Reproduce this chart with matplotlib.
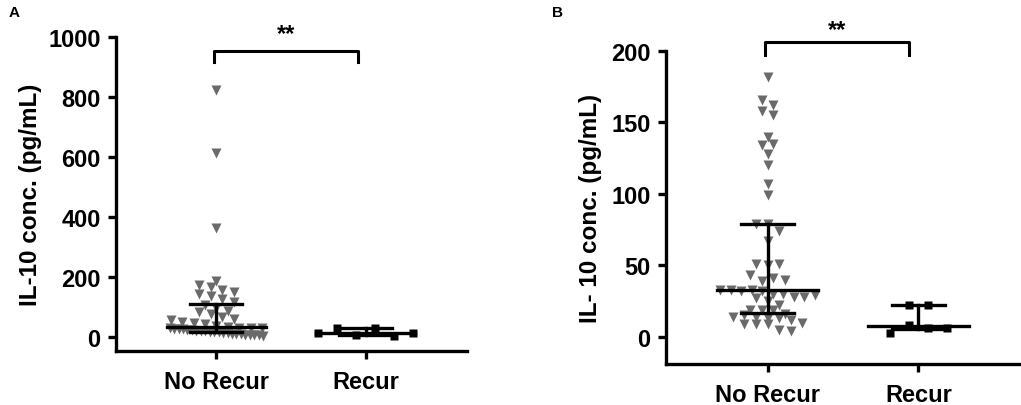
import matplotlib
matplotlib.use("Agg")
import matplotlib.pyplot as plt
import numpy as np

plt.rcParams["font.family"] = ["Liberation Sans", "DejaVu Sans"]
plt.rcParams["font.weight"] = "bold"

# data
groups = ["No Recur", "Recur"]

a_no_recur = [823, 614, 362, 188, 172, 166, 156, 150, 142, 135, 127, 116, 106,
              96, 88, 83, 76, 68, 61, 55, 49, 45, 42,
              36, 33, 31, 31, 30, 29, 28, 27, 26, 24, 23, 21, 20, 19, 18, 17,
              16, 14, 12, 11, 10, 9, 8, 7, 6, 5, 3]
a_recur = [13, 30, 7, 30, 2, 13]

b_no_recur = [182, 166, 162, 158, 155, 140, 134, 135, 128, 120, 107, 99,
              79, 79, 74, 67, 51, 50, 51, 43, 39, 41, 40,
              33, 33, 32, 33, 32, 30, 30, 28, 28, 29, 27, 25, 22,
              19, 19, 19, 14, 15, 16, 14, 13, 13, 12, 10, 9, 9, 9, 5, 4]
b_recur = [2.6, 22, 8, 22, 6.5, 6.5]

a_ticks = [0, 200, 400, 600, 800, 1000]
b_ticks = [0, 50, 100, 150, 200]

TRI_COLOR = "#6a6a6a"
PX_PER_CAT = 150.0


def swarm_offsets(values, px_per_unit, row_h, step_px, max_half_px):
    values = np.asarray(values, dtype=float)
    order = np.argsort(values, kind="stable")
    rows, current = [], [order[0]]
    for idx in order[1:]:
        if (values[idx] - values[current[0]]) * px_per_unit < row_h:
            current.append(idx)
        else:
            rows.append(current)
            current = [idx]
    rows.append(current)
    offsets = np.zeros(len(values))
    for row in rows:
        row = sorted(row)
        n = len(row)
        step = step_px if n == 1 else min(step_px, 2 * max_half_px / (n - 1))
        for i, idx in enumerate(row):
            offsets[idx] = (i - (n - 1) / 2) * step
    return offsets / PX_PER_CAT


def median_iqr(ax, x, values, lw=2.4):
    q1, med, q3 = np.percentile(values, [25, 50, 75], method="weibull")
    ax.plot([x - 0.333, x + 0.333], [med, med], color="black", lw=lw, zorder=4)
    for q in (q1, q3):
        ax.plot([x - 0.175, x + 0.175], [q, q], color="black", lw=lw, zorder=4)
    ax.plot([x, x], [q1, q3], color="black", lw=lw, zorder=4)


def panel(ax, no_recur, recur, ylim, ticks, px_per_unit, ylabel, label_x,
          bracket, star_y):
    x0 = 0 + swarm_offsets(no_recur, px_per_unit, 8, 11.5, 47)
    x1 = 1 + swarm_offsets(recur, px_per_unit, 10, 19, 48)
    ax.plot(x0, no_recur, "v", color=TRI_COLOR, ms=6.5, mec="none", zorder=3,
            clip_on=False)
    ax.plot(x1, recur, "s", color="black", ms=6, mec="none", zorder=3,
            clip_on=False)
    median_iqr(ax, 0, no_recur)
    median_iqr(ax, 1, recur)

    ax.set_xlim(-0.673, 1.68)
    ax.set_ylim(*ylim)
    ax.set_xticks([0, 1])
    ax.set_xticklabels(groups)
    ax.set_yticks(ticks)
    for s in ("top", "right"):
        ax.spines[s].set_visible(False)
    for s in ("left", "bottom"):
        ax.spines[s].set_linewidth(2.4)
    ax.tick_params(axis="both", width=2.4, length=6, labelsize=17)
    ax.tick_params(axis="y", pad=5)
    ax.tick_params(axis="x", pad=8)
    ax.set_ylabel(ylabel, fontsize=17.5, fontweight="bold")
    ax.yaxis.set_label_coords(label_x, 0.5)

    # significance bracket
    bx0, bx1, btop, bleg = bracket
    ax.plot([bx0, bx0, bx1, bx1], [bleg, btop, btop, bleg], color="black",
            lw=2.2, clip_on=False)
    ax.text((bx0 + bx1) / 2, star_y, "**", ha="center", va="center",
            fontsize=17, fontweight="bold")


fig = plt.figure(figsize=(10.21, 4.06), dpi=100)
ax_a = fig.add_axes([116 / 1021, 54 / 406, 351 / 1021, 314 / 406])
ax_b = fig.add_axes([666 / 1021, 41 / 406, 355 / 1021, 313 / 406])

panel(ax_a, a_no_recur, a_recur, (-47, 1000), a_ticks, 314 / 1047,
      "IL-10 conc. (pg/mL)", -0.211, (-0.013, 0.947, 953, 917), 1010)
panel(ax_b, b_no_recur, b_recur, (-19, 200), b_ticks, 313 / 219,
      "IL- 10 conc. (pg/mL)", -0.18, (-0.02, 0.94, 206.5, 197.4), 215)

fig.text(14 / 1021, 1 - 13 / 406, "A", fontsize=11, fontweight="bold",
         ha="center", va="center")
fig.text(557 / 1021, 1 - 13 / 406, "B", fontsize=11, fontweight="bold",
         ha="center", va="center")

fig.savefig("out.png", dpi=100)
